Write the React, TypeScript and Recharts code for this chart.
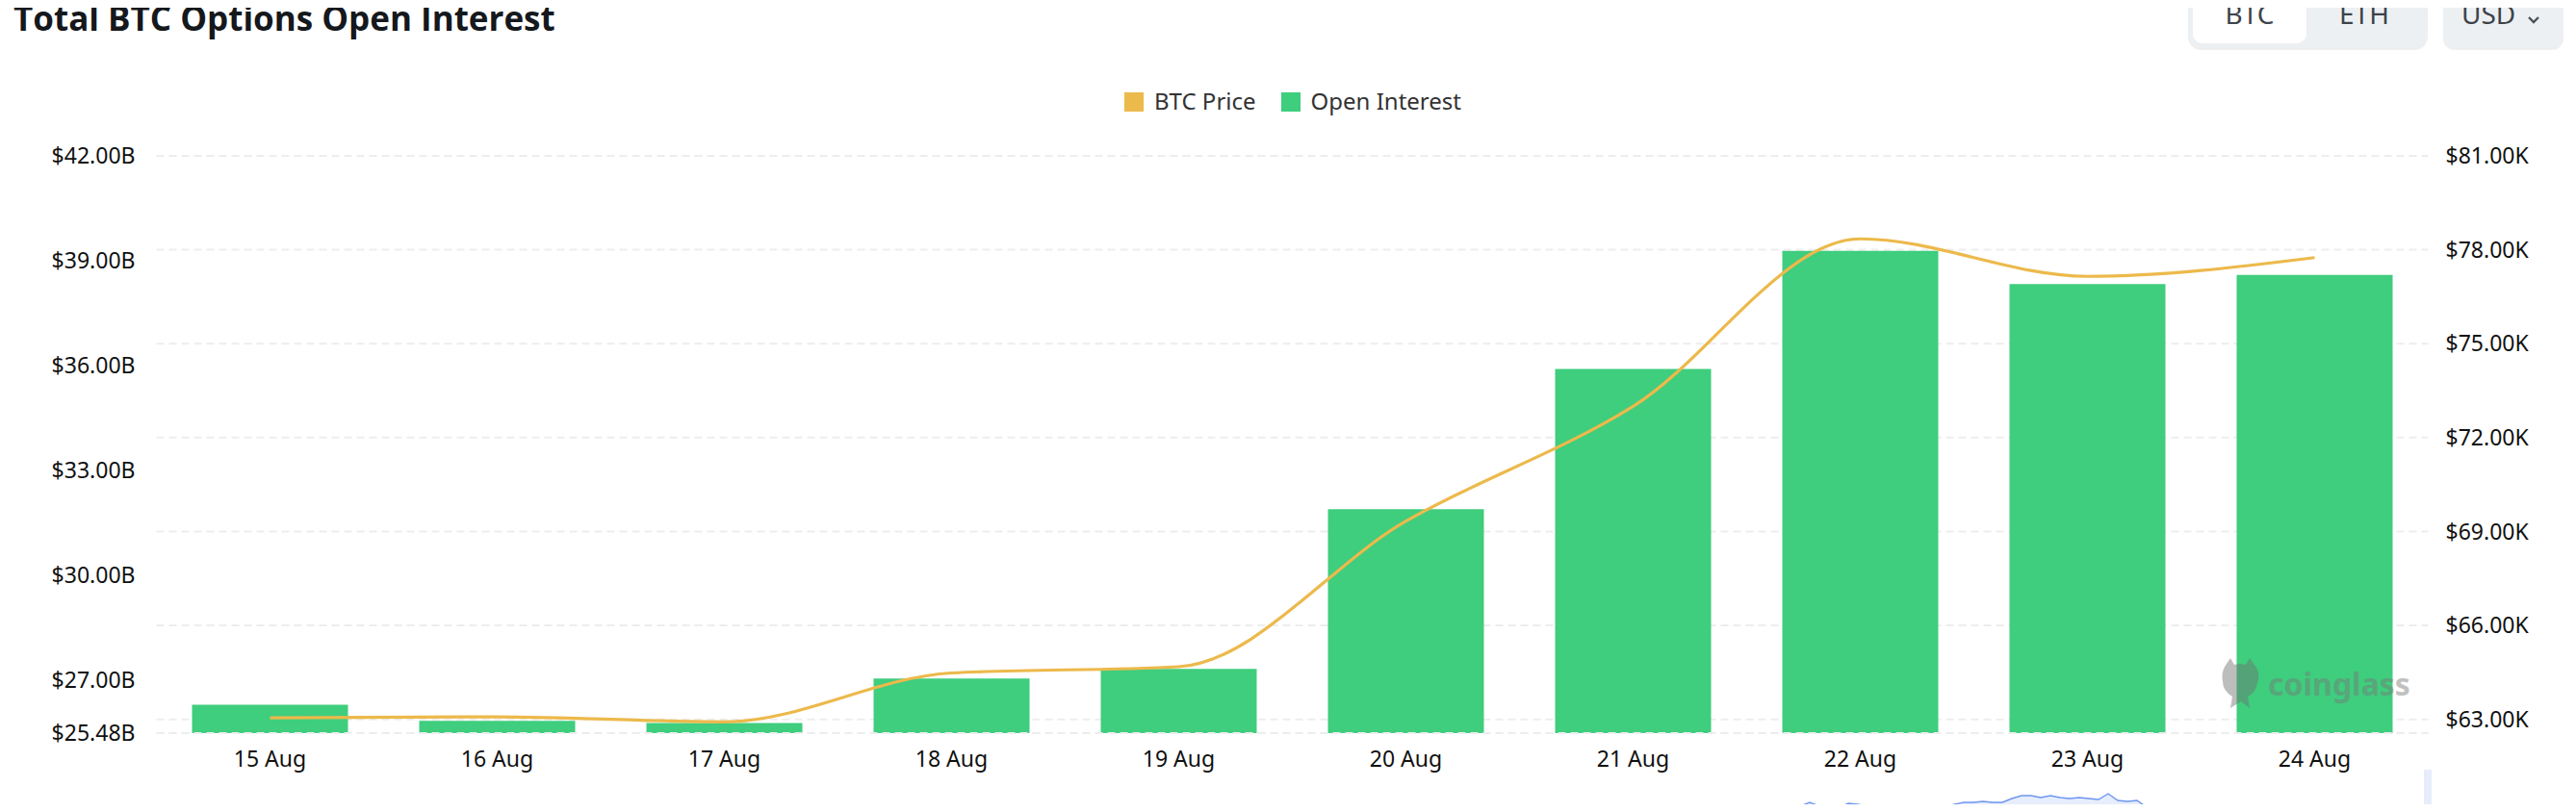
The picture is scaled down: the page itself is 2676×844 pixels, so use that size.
import { Area, AreaChart, Bar, CartesianGrid, ComposedChart, Line, ReferenceLine, XAxis, YAxis } from "recharts";

const dates = ["15 Aug", "16 Aug", "17 Aug", "18 Aug", "19 Aug", "20 Aug", "21 Aug", "22 Aug", "23 Aug", "24 Aug"];
// open interest in $B
const openInterest = [26.29, 25.83, 25.77, 27.04, 27.32, 31.89, 35.9, 39.28, 38.33, 38.59];
// btc price in $K
const btcPrice = [63.05, 63.08, 62.92, 64.48, 64.68, 69.33, 73.0, 78.35, 77.15, 77.75];
const oiTicks = [25.48, 27, 30, 33, 36, 39, 42];
const priceTicks = [63, 66, 69, 72, 75, 78, 81];
// slice of the navigator mini chart that peeks in at the bottom edge
const navigatorTrend = [
  -4, -1, 4, 6, 10, 6, 7, 4, 9, 8, 6, 4, -3, -6, -8, -6, -3, -1, 4, 8, 10, 10, 11, 10, 10, 14, 17, 17, 15, 17, 15, 14,
  15, 14, 13, 19, 12, 11, 12, 5, -3, -6, -7, -4, -1, 2, -2,
];

const GREEN = "#3FCD7E";
const GOLD = "#ECB94B";
const GRID = "#EDEDED";
const FONT = "'Noto Sans', sans-serif";

const data = dates.map((date, i) => ({ date, oi: openInterest[i], price: btcPrice[i] }));
const navData = navigatorTrend.map((v, i) => ({ i, v }));

const tickStyle = { fontSize: 23, fill: "#111", fontFamily: FONT };

const chip = {
  position: "absolute" as const,
  top: -14,
  height: 64,
  background: "#EDF0F3",
  borderRadius: 14,
  boxShadow: "0 2px 1px rgba(0,0,0,0.07)",
};

const chipText = {
  position: "absolute" as const,
  top: 0,
  lineHeight: "28px",
  fontSize: 28,
  fontFamily: FONT,
  color: "#3d434a",
  textAlign: "center" as const,
};

export default function App() {
  return (
    <div style={{ position: "relative", width: 2676, height: 844, margin: -8, overflow: "hidden", background: "#fff" }}>
      <div
        style={{
          position: "absolute",
          left: 14,
          top: 1,
          fontFamily: "'Open Sans', sans-serif",
          fontWeight: 700,
          fontSize: 35,
          lineHeight: "35px",
          color: "#15181c",
          whiteSpace: "nowrap",
        }}
      >
        Total BTC Options Open Interest
      </div>

      {/* BTC / ETH switch and currency select */}
      <div style={{ ...chip, left: 2273, width: 249 }} />
      <div style={{ position: "absolute", left: 2278, top: -14, width: 118, height: 59, background: "#fff", borderRadius: 10 }} />
      <div style={{ ...chipText, left: 2278, width: 118 }}>BTC</div>
      <div style={{ ...chipText, left: 2396, width: 120 }}>ETH</div>
      <div style={{ ...chip, left: 2538, width: 125, borderRadius: 12 }} />
      <div style={{ ...chipText, left: 2557 }}>USD</div>
      <svg style={{ position: "absolute", left: 2620, top: 0 }} width={24} height={30}>
        <polyline points="7,7 12,2 17,7" fill="none" stroke="#4a5058" strokeWidth={2.4} />
        <polyline points="7,18 12,23 17,18" fill="none" stroke="#4a5058" strokeWidth={2.4} />
      </svg>

      {/* legend */}
      <div
        style={{
          position: "absolute",
          left: 1168,
          top: 96,
          display: "flex",
          alignItems: "center",
          height: 20,
          fontFamily: FONT,
          fontSize: 24,
          color: "#333",
          whiteSpace: "nowrap",
        }}
      >
        <span style={{ width: 20, height: 20, background: GOLD, display: "inline-block" }} />
        <span style={{ marginLeft: 11, position: "relative", top: -2 }}>BTC Price</span>
        <span style={{ width: 20, height: 20, background: GREEN, display: "inline-block", marginLeft: 26 }} />
        <span style={{ marginLeft: 11, position: "relative", top: -2 }}>Open Interest</span>
      </div>

      <div style={{ position: "absolute", left: 0, top: 0 }}>
        <ComposedChart width={2676} height={844} data={data} margin={{ top: 162, right: 53.5, left: 62.5, bottom: 42 }}>
          <CartesianGrid yAxisId="right" vertical={false} stroke={GRID} strokeDasharray="8 5" strokeWidth={2} />
          <XAxis
            dataKey="date"
            height={40}
            interval={0}
            tickLine={false}
            axisLine={false}
            tickSize={0}
            tickMargin={19}
            tick={tickStyle}
          />
          <YAxis
            yAxisId="left"
            orientation="left"
            width={100}
            domain={[25.48, 42]}
            ticks={oiTicks}
            interval={0}
            tickLine={false}
            axisLine={false}
            tickSize={0}
            tickMargin={22}
            tick={tickStyle}
            tickFormatter={(v: number) => `$${v.toFixed(2)}B`}
          />
          <YAxis
            yAxisId="right"
            orientation="right"
            width={100}
            domain={[62.56, 81]}
            ticks={priceTicks}
            interval={0}
            tickLine={false}
            axisLine={false}
            tickSize={0}
            tickMargin={18}
            tick={{ ...tickStyle, textAnchor: "start" }}
            tickFormatter={(v: number) => `$${v.toFixed(2)}K`}
          />
          <ReferenceLine yAxisId="left" y={25.48} stroke={GRID} strokeDasharray="8 5" strokeWidth={2} />
          <Bar yAxisId="left" dataKey="oi" name="Open Interest" fill={GREEN} barSize={162} isAnimationActive={false} />
          <Line
            yAxisId="right"
            type="monotone"
            dataKey="price"
            name="BTC Price"
            stroke={GOLD}
            strokeWidth={3.2}
            dot={false}
            activeDot={false}
            isAnimationActive={false}
          />
        </ComposedChart>
      </div>

      {/* watermark */}
      <div style={{ position: "absolute", left: 2303, top: 684, display: "flex", alignItems: "center", opacity: 0.45 }}>
        <svg width={48} height={54}>
          <path
            d="M10 6 L14 0 L18 7 Q24 5 30 7 L34 0 L38 6 Q46 14 42 26 Q40 36 32 40 L34 52 L25 45 L14 52 L16 40 Q6 34 6 24 Q4 14 10 6 Z"
            fill="#6f6f6f"
          />
        </svg>
        <span style={{ marginLeft: 5, fontFamily: FONT, fontWeight: 700, fontSize: 32, color: "#777", lineHeight: "34px" }}>
          coinglass
        </span>
      </div>

      {/* navigator strip */}
      <div style={{ position: "absolute", left: 1840, top: 800 }}>
        <AreaChart width={460} height={44} data={navData} margin={{ top: 0, right: 0, bottom: 0, left: 0 }}>
          <XAxis dataKey="i" hide />
          <YAxis hide domain={[0, 44]} allowDataOverflow />
          <Area
            type="linear"
            dataKey="v"
            stroke="#6E96F0"
            strokeWidth={1.4}
            fill="#E6EDFC"
            fillOpacity={1}
            isAnimationActive={false}
          />
        </AreaChart>
      </div>
      <div style={{ position: "absolute", left: 2518, top: 800, width: 8, height: 44, background: "#E8EDFB" }} />
    </div>
  );
}
